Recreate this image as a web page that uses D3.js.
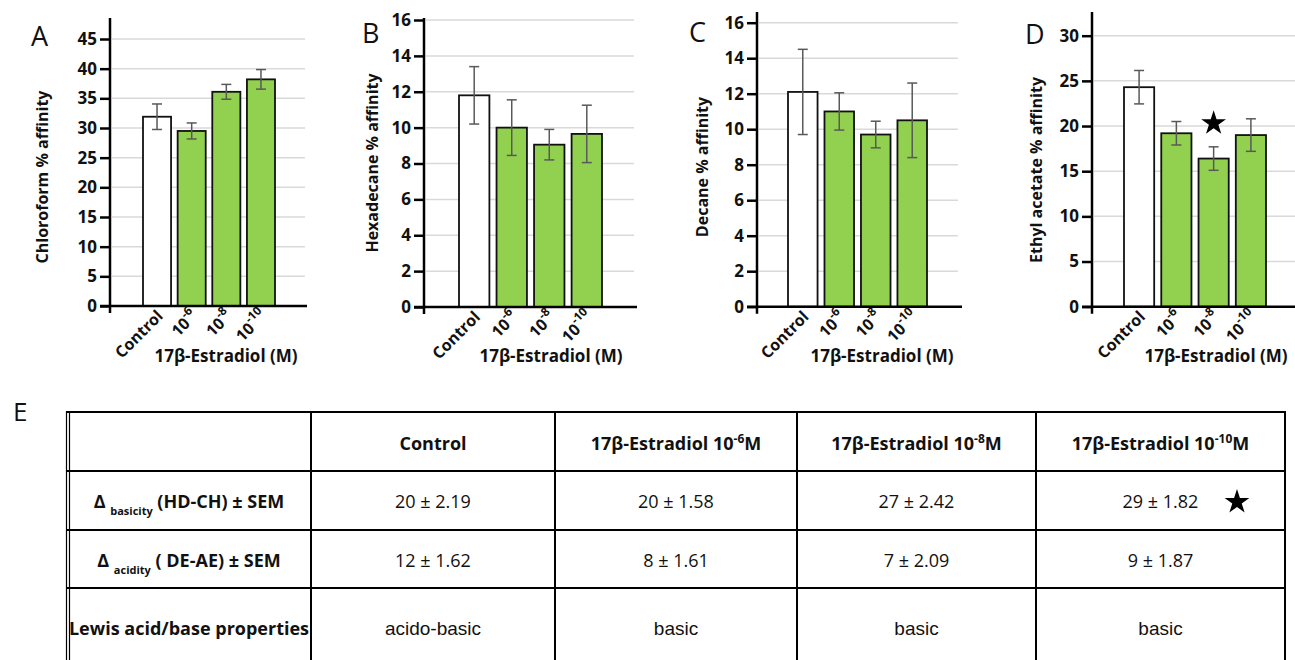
<!DOCTYPE html>
<html>
<head>
<meta charset="utf-8">
<script src="https://cdn.jsdelivr.net/npm/d3@7"></script>
<style>
  body { margin: 0; background: #fff; }
  svg { display: block; font-family: "Open Sans", sans-serif; }
</style>
</head>
<body>
<svg id="fig" width="1295" height="660"></svg>
<script>
// categories on the x axis ("10" + superscript exponent)
const tickBase = ["Control", "10", "10", "10"];
const tickExp = ["", "-6", "-8", "-10"];

// mean % affinity and error (half length of the bar) per panel
const chloroform = [31.9, 29.5, 36.1, 38.2];
const chloroformErr = [2.15, 1.35, 1.25, 1.65];
const hexadecane = [11.8, 10.0, 9.05, 9.65];
const hexadecaneErr = [1.6, 1.55, 0.85, 1.6];
const decane = [12.1, 11.0, 9.7, 10.5];
const decaneErr = [2.4, 1.05, 0.75, 2.1];
const ethylAcetate = [24.3, 19.2, 16.4, 19.0];
const ethylAcetateErr = [1.85, 1.3, 1.3, 1.8];

// table E
const colMain = ["Control", "17β-Estradiol 10", "17β-Estradiol 10", "17β-Estradiol 10"];
const colSup = ["", "-6", "-8", "-10"];
const colTail = ["", "M", "M", "M"];
const basicity = ["20 ± 2.19", "20 ± 1.58", "27 ± 2.42", "29 ± 1.82"];
const acidity = ["12 ± 1.62", "8 ± 1.61", "7 ± 2.09", "9 ± 1.87"];
const lewis = ["acido-basic", "basic", "basic", "basic"];

const svg = d3.select("#fig");
const green = "#92d050";

const panels = [
  { letter: "A", title: "Chloroform % affinity", values: chloroform, errors: chloroformErr,
    ticks: d3.range(0, 46, 5), topVal: 45, topY: 39, y0: 306, axisTop: 18,
    axisX: 110, right: 307, gridEnd: 305, band: [143, 275],
    titleX: 48, titleY: 177, letterX: 31, letterY: 46, xTitle: 226 },
  { letter: "B", title: "Hexadecane % affinity", values: hexadecane, errors: hexadecaneErr,
    ticks: d3.range(0, 17, 2), topVal: 16, topY: 20, y0: 307, axisTop: 18,
    axisX: 424, right: 637, gridEnd: 634, band: [459, 602],
    titleX: 378, titleY: 163, letterX: 362, letterY: 43, xTitle: 551 },
  { letter: "C", title: "Decane % affinity", values: decane, errors: decaneErr,
    ticks: d3.range(0, 17, 2), topVal: 16, topY: 22.7, y0: 306.7, axisTop: 12,
    axisX: 757, right: 962, gridEnd: 958, band: [788, 927],
    titleX: 708, titleY: 167, letterX: 689, letterY: 42, xTitle: 882 },
  { letter: "D", title: "Ethyl acetate % affinity", values: ethylAcetate, errors: ethylAcetateErr,
    ticks: d3.range(0, 31, 5), topVal: 30, topY: 35.7, y0: 306.7, axisTop: 12,
    axisX: 1092, right: 1295, gridEnd: 1295, band: [1124, 1266],
    titleX: 1042, titleY: 170, letterX: 1025, letterY: 44, xTitle: 1216,
    star: 2 }
];

panels.forEach(p => {
  const g = svg.append("g");
  const y = d3.scaleLinear().domain([0, p.topVal]).range([p.y0, p.topY]);
  const x = d3.scaleBand().domain(d3.range(4)).range(p.band).paddingInner(0.19).paddingOuter(0);

  // gridlines
  g.append("g").selectAll("line")
    .data(p.ticks.filter(t => t > 0))
    .join("line")
      .attr("x1", p.axisX + 2).attr("x2", p.gridEnd)
      .attr("y1", d => y(d)).attr("y2", d => y(d))
      .attr("stroke", "#d9d9d9").attr("stroke-width", 1.5);

  // y axis ticks and labels
  const ya = g.append("g")
    .attr("transform", `translate(${p.axisX},0)`)
    .call(d3.axisLeft(y).tickValues(p.ticks).tickSize(10).tickPadding(3));
  ya.select(".domain").remove();
  ya.selectAll(".tick line").attr("stroke", "#000").attr("stroke-width", 2.5);
  ya.selectAll(".tick text")
    .attr("font-family", "Open Sans").attr("font-weight", 700).attr("font-size", 17)
    .attr("fill", "#111");

  // bars
  g.append("g").selectAll("rect")
    .data(p.values)
    .join("rect")
      .attr("x", (d, i) => x(i))
      .attr("y", d => y(d))
      .attr("width", x.bandwidth())
      .attr("height", d => p.y0 - y(d))
      .attr("fill", (d, i) => i === 0 ? "#fff" : green)
      .attr("stroke", "#111").attr("stroke-width", 1.8);

  // error bars
  const eb = g.append("g").attr("stroke", "#595959").attr("stroke-width", 1.5);
  p.values.forEach((v, i) => {
    const cx = x(i) + x.bandwidth() / 2;
    const hi = y(v + p.errors[i]), lo = y(v - p.errors[i]);
    eb.append("line").attr("x1", cx).attr("x2", cx).attr("y1", hi).attr("y2", lo);
    eb.append("line").attr("x1", cx - 5).attr("x2", cx + 5).attr("y1", hi).attr("y2", hi);
    eb.append("line").attr("x1", cx - 5).attr("x2", cx + 5).attr("y1", lo).attr("y2", lo);
  });

  // axis lines
  g.append("line").attr("x1", p.axisX).attr("x2", p.axisX)
    .attr("y1", p.axisTop).attr("y2", p.y0 + 7)
    .attr("stroke", "#000").attr("stroke-width", 2.5);
  g.append("line").attr("x1", p.axisX - 10).attr("x2", p.right)
    .attr("y1", p.y0).attr("y2", p.y0)
    .attr("stroke", "#000").attr("stroke-width", 2.5);

  // rotated category labels
  const tl = g.append("g").selectAll("text")
    .data(tickBase)
    .join("text")
      .attr("transform", (d, i) => `translate(${x(i) + x.bandwidth() / 2 + 7},${p.y0 + 11}) rotate(-45)`)
      .attr("text-anchor", "end")
      .attr("font-weight", 700).attr("font-size", 16).attr("fill", "#111");
  tl.append("tspan").text(d => d);
  tl.append("tspan").text((d, i) => tickExp[i])
    .attr("font-size", 12).attr("dy", -8);

  // x title
  g.append("text").attr("x", p.xTitle).attr("y", 362)
    .attr("text-anchor", "middle").attr("font-weight", 700).attr("font-size", 17)
    .attr("fill", "#111").text("17β-Estradiol (M)");

  // y title
  g.append("text")
    .attr("transform", `translate(${p.titleX},${p.titleY}) rotate(-90)`)
    .attr("text-anchor", "middle").attr("font-weight", 700).attr("font-size", 16)
    .attr("fill", "#111").text(p.title);

  // panel letter
  g.append("text").attr("x", p.letterX).attr("y", p.letterY)
    .attr("font-size", 27).attr("fill", "#111").text(p.letter);

  if (p.star != null) {
    const i = p.star;
    g.append("path")
      .attr("d", d3.symbol(d3.symbolStar, 190)())
      .attr("transform", `translate(${x(i) + x.bandwidth() / 2},${y(p.values[i] + p.errors[i] + 2.6)})`)
      .attr("fill", "#000");
  }
});

// ---------- table E ----------
const colEdges = [67, 311, 555, 797, 1036, 1285];
const rowEdges = [412, 471, 530, 588];
const tg = svg.append("g");

tg.append("text").attr("x", 13).attr("y", 421).attr("font-size", 26).attr("fill", "#111").text("E");

tg.append("g").selectAll("line")
  .data(rowEdges)
  .join("line")
    .attr("x1", 66).attr("x2", 1286).attr("y1", d => d).attr("y2", d => d)
    .attr("stroke", "#000").attr("stroke-width", 2);
tg.append("g").selectAll("line")
  .data(colEdges.slice(1))
  .join("line")
    .attr("x1", d => d).attr("x2", d => d).attr("y1", 411).attr("y2", 660)
    .attr("stroke", "#000").attr("stroke-width", 2);
[66.5, 69.5].forEach(xx => tg.append("line")
  .attr("x1", xx).attr("x2", xx).attr("y1", 411).attr("y2", 660)
  .attr("stroke", "#000").attr("stroke-width", 1.2));

const colCenter = i => (colEdges[i + 1] + colEdges[i + 2]) / 2;
const labelCenter = (colEdges[0] + colEdges[1]) / 2;

// header
const hd = tg.append("g").selectAll("text")
  .data(colMain)
  .join("text")
    .attr("x", (d, i) => colCenter(i)).attr("y", 450)
    .attr("text-anchor", "middle").attr("font-weight", 700).attr("font-size", 18)
    .attr("fill", "#111");
hd.append("tspan").text(d => d);
hd.append("tspan").text((d, i) => colSup[i]).attr("font-size", 12).attr("dy", -7);
hd.append("tspan").text((d, i) => colTail[i]).attr("dy", 7);

// row labels
function deltaLabel(yy, sub, rest) {
  const t = tg.append("text").attr("x", labelCenter).attr("y", yy)
    .attr("text-anchor", "middle").attr("font-weight", 700).attr("font-size", 18)
    .attr("fill", "#111");
  t.append("tspan").text("Δ ");
  t.append("tspan").text(sub).attr("font-size", 11).attr("dy", 7);
  t.append("tspan").text(rest).attr("dy", -7);
}
deltaLabel(508, "basicity", " (HD-CH) ± SEM");
deltaLabel(567, "acidity", " ( DE-AE) ± SEM");
tg.append("text").attr("x", labelCenter).attr("y", 635)
  .attr("text-anchor", "middle").attr("font-weight", 700).attr("font-size", 18)
  .attr("fill", "#111").text("Lewis acid/base properties");

// body cells
[[basicity, 508], [acidity, 567]].forEach(([row, yy]) => {
  tg.append("g").selectAll("text")
    .data(row)
    .join("text")
      .attr("x", (d, i) => colCenter(i)).attr("y", yy)
      .attr("text-anchor", "middle").attr("font-size", 18).attr("fill", "#111")
      .text(d => d);
});
tg.append("g").selectAll("text")
  .data(lewis)
  .join("text")
    .attr("x", (d, i) => colCenter(i)).attr("y", 635)
    .attr("text-anchor", "middle").attr("font-family", "Liberation Sans")
    .attr("font-size", 19).attr("fill", "#111")
    .text(d => d);

// significance star next to the 10^-10 basicity value
tg.append("path")
  .attr("d", d3.symbol(d3.symbolStar, 190)())
  .attr("transform", `translate(1237,502)`)
  .attr("fill", "#000");
</script>
</body>
</html>
